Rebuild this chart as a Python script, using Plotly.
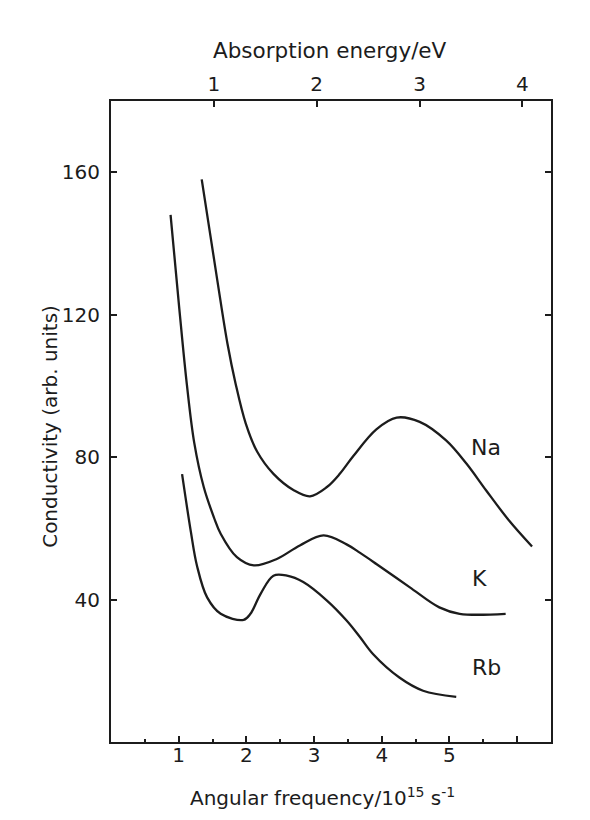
import plotly.graph_objects as go

# ---- data ----
na_x = [1.34, 1.57, 1.72, 1.84, 1.99, 2.16, 2.40, 2.70, 2.94, 3.19, 3.38, 3.58, 3.92, 4.22, 4.56, 4.95, 5.25, 5.54, 5.88, 6.22]
na_y = [158, 129.7, 111.9, 100.7, 89.5, 81.5, 75.3, 70.7, 69, 71.6, 75.3, 80.3, 87.8, 91.1, 89.9, 84.7, 78.2, 70.7, 62.2, 54.9]

k_x = [0.88, 1.01, 1.12, 1.23, 1.37, 1.52, 1.62, 1.86, 2.11, 2.45, 2.79, 3.14, 3.48, 3.68, 3.92, 4.41, 4.85, 5.15, 5.83]
k_y = [148, 121.5, 100.5, 84, 71.6, 63.1, 58.5, 51.9, 49.6, 51.4, 55.2, 58, 55.5, 53.1, 50, 43.5, 37.8, 36, 36]

rb_x = [1.05, 1.18, 1.27, 1.42, 1.62, 1.96, 2.06, 2.21, 2.40, 2.60, 2.84, 3.19, 3.48, 3.68, 3.87, 4.26, 4.61, 5.1]
rb_y = [75.2, 59, 49.5, 40.6, 36, 34.3, 36, 41.6, 46.7, 46.7, 44.9, 39.7, 34.1, 29.4, 24.7, 18.1, 14.4, 12.7]

series_names = ["Na", "K", "Rb"]
label_x = [5.54, 5.44, 5.54]
label_y = [82.8, 45.8, 21]

bottom_tickvals = [1, 2, 3, 4, 5]
bottom_ticktext = ["1", "2", "3", "4", "5"]
bottom_unlabeled_tick = [6]
y_tickvals = [40, 80, 120, 160]
energy_ticks_ev = [1, 2, 3, 4]
OMEGA_PER_EV = 1.5193  # 10^15 s^-1 per eV

INK = "#1c1c1c"
FONT = "DejaVu Sans"

fig = go.Figure()
for xs, ys, name in [(na_x, na_y, "Na"), (k_x, k_y, "K"), (rb_x, rb_y, "Rb")]:
    fig.add_trace(go.Scatter(x=xs, y=ys, mode="lines", name=name,
                             line=dict(color=INK, width=2.3, shape="spline", smoothing=1.0),
                             showlegend=False, hoverinfo="skip"))

# empty traces so the top (energy) axis and the extra bottom tick axis exist
fig.add_trace(go.Scatter(x=[], y=[], xaxis="x2", showlegend=False, hoverinfo="skip"))
fig.add_trace(go.Scatter(x=[], y=[], xaxis="x3", showlegend=False, hoverinfo="skip"))

for nm, lx, ly in zip(series_names, label_x, label_y):
    fig.add_annotation(x=lx, y=ly, text=nm, showarrow=False,
                       font=dict(family=FONT, size=22, color=INK))

# axis titles placed as annotations (paper coordinates)
fig.add_annotation(xref="paper", yref="paper", x=0.48, y=-0.086, xanchor="center", yanchor="middle",
                   text="Angular frequency/10<sup>15</sup> s<sup>-1</sup>", showarrow=False,
                   font=dict(family=FONT, size=20, color=INK))
fig.add_annotation(xref="paper", yref="paper", x=0.498, y=1.079, xanchor="center", yanchor="middle",
                   text="Absorption energy/eV", showarrow=False,
                   font=dict(family=FONT, size=21.5, color=INK))
fig.add_annotation(xref="paper", yref="paper", x=-0.139, y=0.493, xanchor="center", yanchor="middle",
                   text="Conductivity (arb. units)", textangle=-90, showarrow=False,
                   font=dict(family=FONT, size=20, color=INK))

fig.update_layout(
    width=590, height=820,
    margin=dict(l=103, r=47, t=93, b=86),
    paper_bgcolor="white", plot_bgcolor="white",
    font=dict(family=FONT, size=20, color=INK),
    xaxis=dict(range=[0, 6.5], showline=True, linecolor=INK, linewidth=2,
               showgrid=False, zeroline=False,
               tickvals=bottom_tickvals, ticktext=bottom_ticktext,
               ticks="inside", ticklen=6, tickwidth=1.5, tickcolor=INK,
               minor=dict(dtick=0.5, tick0=0, ticks="inside", ticklen=3, tickwidth=1.5, tickcolor=INK),
               tickfont=dict(size=20), ticklabelstandoff=-6),
    xaxis3=dict(range=[0, 6.5], overlaying="x", side="bottom", anchor="y",
                showline=False, showgrid=False, zeroline=False,
                tickvals=bottom_unlabeled_tick, showticklabels=False,
                ticks="inside", ticklen=6, tickwidth=1.5, tickcolor=INK),
    xaxis2=dict(range=[0, 6.5], overlaying="x", side="top", anchor="y",
                showline=True, linecolor=INK, linewidth=2, showgrid=False, zeroline=False,
                tickvals=[e * OMEGA_PER_EV for e in energy_ticks_ev],
                ticktext=[str(e) for e in energy_ticks_ev],
                ticks="inside", ticklen=6, tickwidth=1.5, tickcolor=INK,
                tickfont=dict(size=20)),
    yaxis=dict(range=[0, 180], showline=True, linecolor=INK, linewidth=2,
               mirror="ticks", showgrid=False, zeroline=False,
               tickvals=y_tickvals, ticks="inside", ticklen=6, tickwidth=1.5, tickcolor=INK,
               tickfont=dict(size=20), ticklabelstandoff=5),
)

fig.write_html("out.html")
